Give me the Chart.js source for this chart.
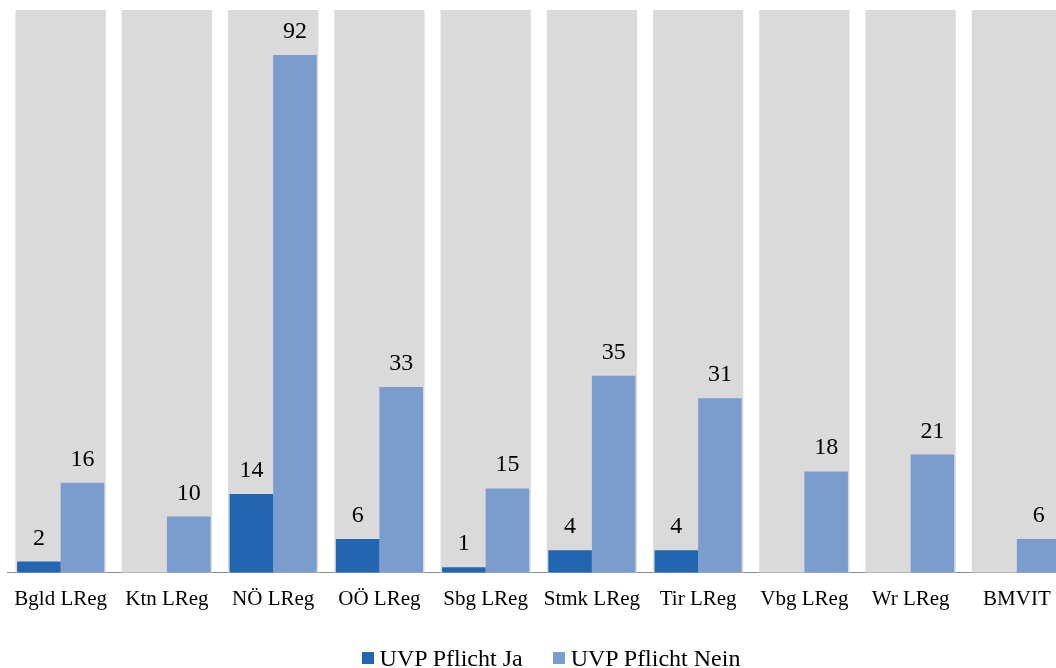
<!DOCTYPE html>
<html>
<head>
<meta charset="utf-8">
<script src="https://cdn.jsdelivr.net/npm/chart.js@4/dist/chart.umd.min.js"></script>
<style>
  html, body { margin: 0; padding: 0; background: #fff; overflow: hidden; }
  #wrap { position: relative; width: 1072px; height: 668px; }
  #legend {
    position: absolute; left: 0; top: 646px; width: 1102px; height: 24px;
    display: flex; justify-content: center; align-items: center;
    font-family: "Liberation Serif", "Times New Roman", serif; font-size: 24px; line-height: 24px; color: #000;
  }
  .item { display: flex; align-items: center; margin: 0 15px; }
  .box { width: 12px; height: 12px; margin-right: 6px; }
</style>
</head>
<body>
<div id="wrap">
  <canvas id="myChart" width="1072" height="668"></canvas>
  <div id="legend"></div>
</div>
<script>
'use strict';

let categories = ['Bgld LReg', 'Ktn LReg', 'NÖ LReg', 'OÖ LReg', 'Sbg LReg', 'Stmk LReg', 'Tir LReg', 'Vbg LReg', 'Wr LReg', 'BMVIT'];
let pflichtJa = [2, null, 14, 6, 1, 4, 4, null, null, null];
let pflichtNein = [16, 10, 92, 33, 15, 35, 31, 18, 21, 6];
let backdrop = [100, 100, 100, 100, 100, 100, 100, 100, 100, 100];
let seriesNames = ['UVP Pflicht Ja', 'UVP Pflicht Nein'];
let seriesColors = ['#2166ae', '#7b9dce'];

let serif = '"Liberation Serif", "Times New Roman", serif';

// value labels above the blue bars
let valueLabels = {
  id: 'valueLabels',
  afterDatasetsDraw(chart) {
    let ctx = chart.ctx;
    ctx.save();
    ctx.font = '24px ' + serif;
    ctx.fillStyle = '#000';
    ctx.textAlign = 'center';
    ctx.textBaseline = 'alphabetic';
    for (let d = 0; d < 2; d++) {
      let meta = chart.getDatasetMeta(d);
      let data = chart.data.datasets[d].data;
      meta.data.forEach(function (bar, i) {
        if (data[i] === null) return;
        ctx.fillText(String(data[i]), bar.x, bar.y - 17);
      });
    }
    ctx.restore();
  }
};

let ctx = document.getElementById('myChart').getContext('2d');
let myChart = new Chart(ctx, {
  type: 'bar',
  data: {
    labels: categories,
    datasets: [
      {
        label: seriesNames[0],
        data: pflichtJa,
        backgroundColor: seriesColors[0],
        categoryPercentage: 0.82,
        barPercentage: 1,
        order: 1
      },
      {
        label: seriesNames[1],
        data: pflichtNein,
        backgroundColor: seriesColors[1],
        categoryPercentage: 0.82,
        barPercentage: 1,
        order: 1
      },
      {
        label: 'backdrop',
        data: backdrop,
        backgroundColor: '#dadada',
        grouped: false,
        categoryPercentage: 1,
        barPercentage: 0.85,
        order: 10
      }
    ]
  },
  options: {
    responsive: false,
    animation: false,
    layout: { padding: { left: 6, right: 2, top: 10, bottom: 42 } },
    plugins: {
      legend: { display: false },
      tooltip: { enabled: false }
    },
    scales: {
      x: {
        grid: { display: false, drawTicks: false },
        border: { color: '#8c8c8c', width: 1 },
        ticks: { color: '#000', font: { family: serif, size: 21 }, padding: 14, maxRotation: 0, autoSkip: false }
      },
      y: {
        display: false,
        min: 0,
        max: 100
      }
    }
  },
  plugins: [valueLabels]
});

// legend as html
let legendEl = document.getElementById('legend');
for (let i = 0; i < seriesNames.length; i++) {
  let item = document.createElement('div');
  item.className = 'item';
  let box = document.createElement('span');
  box.className = 'box';
  box.style.background = seriesColors[i];
  let txt = document.createElement('span');
  txt.textContent = seriesNames[i];
  item.appendChild(box);
  item.appendChild(txt);
  legendEl.appendChild(item);
}
</script>
</body>
</html>
